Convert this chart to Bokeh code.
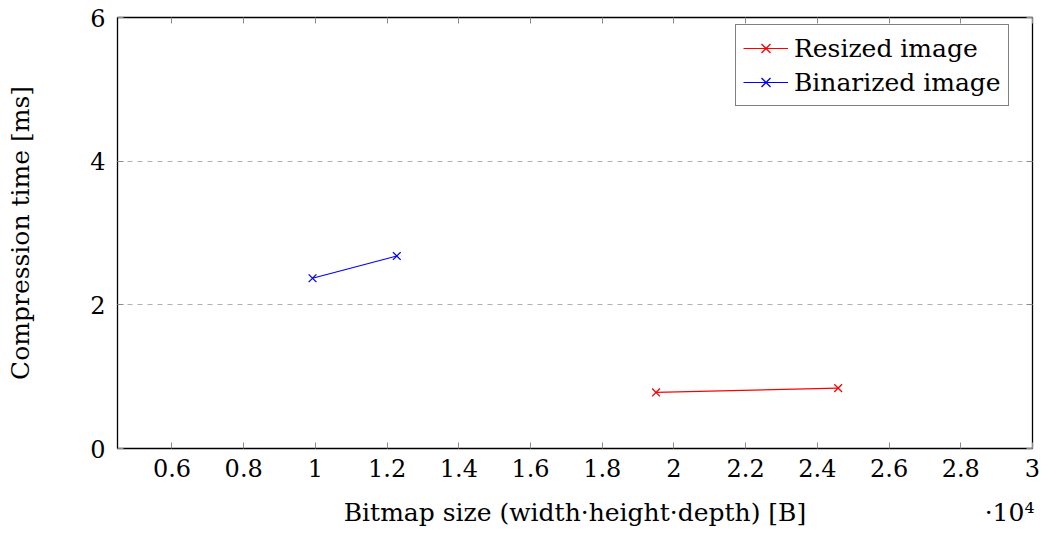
from bokeh.plotting import figure
from bokeh.models import (Range1d, LinearAxis, FixedTicker, Legend, LegendItem)
from bokeh.embed import file_html
from bokeh.resources import INLINE

# Data (bitmap size in units of 10^4 B, compression time in ms)
resized_x = [1.950, 2.458]
resized_y = [0.78, 0.84]
binarized_x = [0.992, 1.227]
binarized_y = [2.37, 2.68]

x_ticks = [0.6, 0.8, 1.0, 1.2, 1.4, 1.6, 1.8, 2.0, 2.2, 2.4, 2.6, 2.8, 3.0]
x_tick_labels = {0.6: "0.6", 0.8: "0.8", 1.0: "1", 1.2: "1.2", 1.4: "1.4", 1.6: "1.6",
                 1.8: "1.8", 2.0: "2", 2.2: "2.2", 2.4: "2.4", 2.6: "2.6", 2.8: "2.8", 3.0: "3"}
y_ticks = [0, 2, 4, 6]

X_MIN, X_MAX = 0.448, 3.0
X_LABEL = "Bitmap size (width·height·depth) [B]"
X_MULT = "·10⁴"

FONT = "DejaVu Serif"
FS = "24px"
FS_LABEL = "25px"

p = figure(width=1044, height=533, output_backend="svg", toolbar_location=None,
           x_range=Range1d(X_MIN, X_MAX), y_range=Range1d(0, 6),
           min_border_left=117, min_border_right=12, min_border_top=17, min_border_bottom=85,
           x_axis_location=None, y_axis_location=None)
p.outline_line_color = "black"
p.outline_line_width = 1.3
p.background_fill_color = "white"
p.border_fill_color = "white"

def style_axis(ax, labels=True):
    ax.major_tick_in = 6
    ax.major_tick_out = 0
    ax.minor_tick_line_color = None
    ax.major_tick_line_color = "#8a8a8a"
    ax.major_tick_line_width = 1
    ax.axis_line_color = None
    ax.major_label_text_font = FONT
    ax.major_label_text_font_size = FS
    ax.major_label_text_color = "black"
    ax.axis_label_text_font = FONT
    ax.axis_label_text_font_size = FS_LABEL
    ax.axis_label_text_font_style = "normal"
    ax.axis_label_text_color = "black"
    if not labels:
        ax.major_label_text_color = None

# bottom axis with ticks and tick labels
xb = LinearAxis(ticker=FixedTicker(ticks=x_ticks))
style_axis(xb)
xb.major_label_overrides = x_tick_labels
xb.major_label_standoff = 10
p.add_layout(xb, "below")

# second bottom row: axis title (centred) and the x10^4 multiplier (right), on one line
title_pos = (X_MIN + X_MAX) / 2
mult_pos = 2.936
xb2 = LinearAxis(ticker=FixedTicker(ticks=[title_pos, mult_pos]))
style_axis(xb2)
xb2.major_tick_in = 0
xb2.major_tick_line_color = None
xb2.major_label_text_font_size = FS_LABEL
xb2.major_label_overrides = {title_pos: X_LABEL, mult_pos: X_MULT}
xb2.major_label_standoff = 18
p.add_layout(xb2, "below")

xt = LinearAxis(ticker=FixedTicker(ticks=x_ticks))
style_axis(xt, labels=False)
p.add_layout(xt, "above")

yl = LinearAxis(ticker=FixedTicker(ticks=y_ticks), axis_label="Compression time [ms]")
style_axis(yl)
yl.major_label_standoff = 12
yl.axis_label_standoff = 52
p.add_layout(yl, "left")

yr = LinearAxis(ticker=FixedTicker(ticks=y_ticks))
style_axis(yr, labels=False)
p.add_layout(yr, "right")

p.xgrid.grid_line_color = None
p.ygrid.ticker = FixedTicker(ticks=y_ticks)
p.ygrid.grid_line_color = "#b0b0b0"
p.ygrid.grid_line_dash = "5 5"
p.ygrid.grid_line_width = 1

r1l = p.line(resized_x, resized_y, line_color="red", line_width=1.2)
r1m = p.scatter(resized_x, resized_y, marker="x", size=11, line_color="red", line_width=1.3)
r2l = p.line(binarized_x, binarized_y, line_color="blue", line_width=1.2)
r2m = p.scatter(binarized_x, binarized_y, marker="x", size=11, line_color="blue", line_width=1.3)

legend = Legend(items=[LegendItem(label="Resized image", renderers=[r1l, r1m]),
                       LegendItem(label="Binarized image", renderers=[r2l, r2m])],
                location=(618, 342))
legend.label_text_font = FONT
legend.label_text_font_size = FS_LABEL
legend.label_text_color = "black"
legend.border_line_color = "black"
legend.border_line_width = 1.3
legend.glyph_width = 45
legend.glyph_height = 32
legend.label_height = 32
legend.spacing = 2
legend.padding = 7
legend.margin = 0
legend.label_standoff = 6
legend.background_fill_alpha = 1
p.add_layout(legend)

open("out.html", "w").write(file_html(p, INLINE))
